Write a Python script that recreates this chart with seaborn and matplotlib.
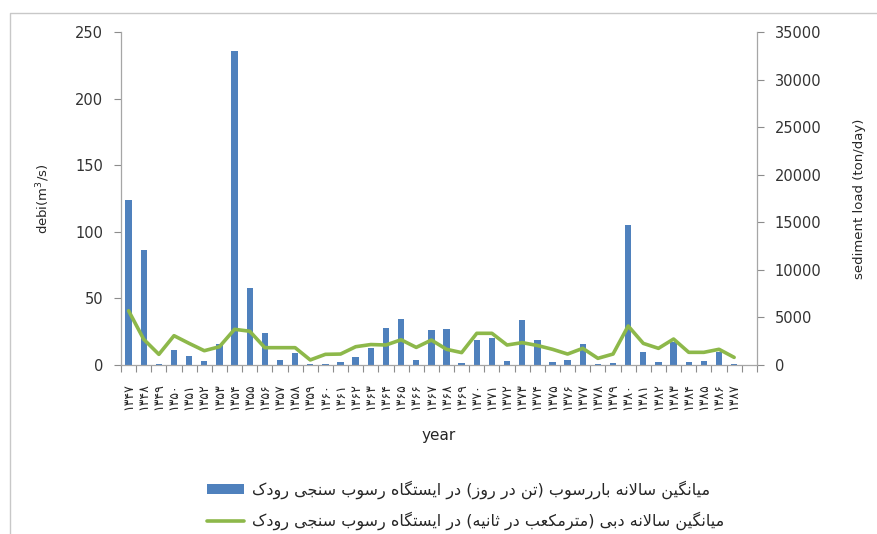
import numpy as np
import pandas as pd
import matplotlib
matplotlib.use("Agg")
import matplotlib.pyplot as plt
from matplotlib.patches import Patch
from matplotlib.lines import Line2D
import seaborn as sns

# ---- data ----
years = list(range(1347, 1388))
bar_vals = [124, 86, 1, 11, 7, 3, 16, 236, 58, 24,
            4, 9, 0.5, 0.7, 2, 6, 13, 28, 34.5, 4,
            26.5, 27, 1.5, 19, 20, 3, 34, 19, 2.5, 4,
            16, 1, 1.5, 105, 10, 2, 17.5, 2, 3, 9.5, 0.5]
line_vals = [5700, 2700, 1120, 3080, 2270, 1500, 1920, 3750, 3550, 1820,
             1820, 1820, 530, 1120, 1150, 1920, 2150, 2100, 2650, 1850,
             2620, 1650, 1300, 3330, 3330, 2100, 2350, 2050, 1650, 1150,
             1750, 700, 1150, 4100, 2270, 1750, 2730, 1330, 1330, 1650, 800]
bar_label = "میانگین سالانه باررسوب (تن در روز) در ایستگاه رسوب سنجی رودک"
line_label = "میانگین سالانه دبی (مترمکعب در ثانیه) در ایستگاه رسوب سنجی رودک"

BLUE = "#4F81BD"
GREEN = "#8DB84A"
GREY = "#8C8C8C"

# ---- tiny arabic/persian shaper (matplotlib has no shaping) ----
FORMS = {
    "ا": ("\uFE8D", "\uFE8E", None, None),
    "ب": ("\uFE8F", "\uFE90", "\uFE91", "\uFE92"),
    "ت": ("\uFE95", "\uFE96", "\uFE97", "\uFE98"),
    "ث": ("\uFE99", "\uFE9A", "\uFE9B", "\uFE9C"),
    "ج": ("\uFE9D", "\uFE9E", "\uFE9F", "\uFEA0"),
    "د": ("\uFEA9", "\uFEAA", None, None),
    "ر": ("\uFEAD", "\uFEAE", None, None),
    "ز": ("\uFEAF", "\uFEB0", None, None),
    "س": ("\uFEB1", "\uFEB2", "\uFEB3", "\uFEB4"),
    "ع": ("\uFEC9", "\uFECA", "\uFECB", "\uFECC"),
    "ل": ("\uFEDD", "\uFEDE", "\uFEDF", "\uFEE0"),
    "م": ("\uFEE1", "\uFEE2", "\uFEE3", "\uFEE4"),
    "ن": ("\uFEE5", "\uFEE6", "\uFEE7", "\uFEE8"),
    "ه": ("\uFEE9", "\uFEEA", "\uFEEB", "\uFEEC"),
    "و": ("\uFEED", "\uFEEE", None, None),
    "ی": ("\uFBFC", "\uFBFD", "\uFBFE", "\uFBFF"),
    "ک": ("\uFB8E", "\uFB8F", "\uFB90", "\uFB91"),
    "گ": ("\uFB92", "\uFB93", "\uFB94", "\uFB95"),
}


def shape(text):
    out = []
    i = 0
    n = len(text)
    while i < n:
        c = text[i]
        if c not in FORMS:
            out.append(c)
            i += 1
            continue
        prev = text[i - 1] if i > 0 else ""
        joins_prev = prev in FORMS and FORMS[prev][2] is not None
        if c == "ل" and i + 1 < n and text[i + 1] == "ا":
            out.append("\uFEFC" if joins_prev else "\uFEFB")
            i += 2
            continue
        nxt = text[i + 1] if i + 1 < n else ""
        joins_next = FORMS[c][2] is not None and nxt in FORMS
        iso, fin, ini, med = FORMS[c]
        if joins_prev and joins_next:
            out.append(med)
        elif joins_prev:
            out.append(fin)
        elif joins_next:
            out.append(ini)
        else:
            out.append(iso)
        i += 1
    mirror = {"(": ")", ")": "("}
    return "".join(mirror.get(ch, ch) for ch in reversed(out))


def fa_digits(num):
    return str(num).translate(str.maketrans("0123456789", "۰۱۲۳۴۵۶۷۸۹"))


year_labels = [fa_digits(y) for y in years]

# ---- plot ----
sns.set_theme(style="white")
plt.rcParams["font.family"] = ["DejaVu Sans"]

fig = plt.figure(figsize=(8.77, 5.34), dpi=100)
ax = fig.add_axes([0.138, 0.3165, 0.725, 0.6235])

df = pd.DataFrame({"year": year_labels, "val": bar_vals})
sns.barplot(data=df, x="year", y="val", color=BLUE, saturation=1,
            width=0.42, edgecolor="none", linewidth=0, ax=ax)

ax2 = ax.twinx()
sns.lineplot(x=np.arange(len(line_vals)), y=line_vals, ax=ax2,
             color=GREEN, linewidth=2.6)

ax.set_xlim(-0.5, len(years) + 0.5)
ax.set_ylim(0, 250)
ax.set_yticks(range(0, 251, 50))
ax2.set_ylim(0, 35000)
ax2.set_yticks(range(0, 35001, 5000))

ax.set_xticks(range(len(years)))
ax.set_xticklabels(year_labels, rotation=90, fontsize=9)
ax.set_xticks(np.arange(-0.5, len(years) + 1, 1), minor=True)
ax.tick_params(axis="x", which="major", length=0, pad=13)
ax.tick_params(axis="x", which="minor", length=5, color=GREY, width=0.8,
               direction="out", bottom=True)
ax.tick_params(axis="y", length=5, color=GREY, width=0.8, direction="out",
               left=True, labelsize=10.5, pad=8, labelcolor="#333333")
ax2.tick_params(axis="y", length=5, color=GREY, width=0.8, direction="out",
                right=True, labelsize=10.5, pad=8, labelcolor="#333333")

for a in (ax, ax2):
    a.spines["top"].set_visible(False)
    for s in ("left", "right", "bottom"):
        a.spines[s].set_color("#A6A6A6")
        a.spines[s].set_linewidth(0.9)
ax.spines["right"].set_visible(False)
ax2.spines["left"].set_visible(False)
ax2.spines["bottom"].set_visible(False)

ax.set_xlabel("year", fontsize=11, color="#262626")
ax.xaxis.set_label_coords(0.5, -0.19)
ax.set_ylabel("debi(m$^3$/s)", fontsize=9.5, color="#262626")
ax.yaxis.set_label_coords(-0.123, 0.5)
ax.yaxis.label.set_verticalalignment("center")
ax2.set_ylabel("sediment load (ton/day)", fontsize=9.5, color="#262626")
ax2.yaxis.set_label_coords(1.162, 0.5)
ax2.yaxis.label.set_verticalalignment("center")

handles = [Patch(facecolor=BLUE, edgecolor="none"),
           Line2D([0], [0], color=GREEN, linewidth=2.6)]
fig.legend(handles, [shape(bar_label), shape(line_label)],
           loc="upper left", bbox_to_anchor=(193 / 877, 1 - 466 / 534),
           frameon=False, fontsize=11.5, labelspacing=0.8,
           handlelength=2.3, handleheight=0.5, handletextpad=0.5)

# chart-area border (top and left edges visible in the picture)
fig.add_artist(Line2D([10 / 877, 10 / 877, 1], [0, 1 - 13 / 534, 1 - 13 / 534],
                      transform=fig.transFigure, color="#C8C8C8", linewidth=1))

fig.savefig("out.png", dpi=100)
